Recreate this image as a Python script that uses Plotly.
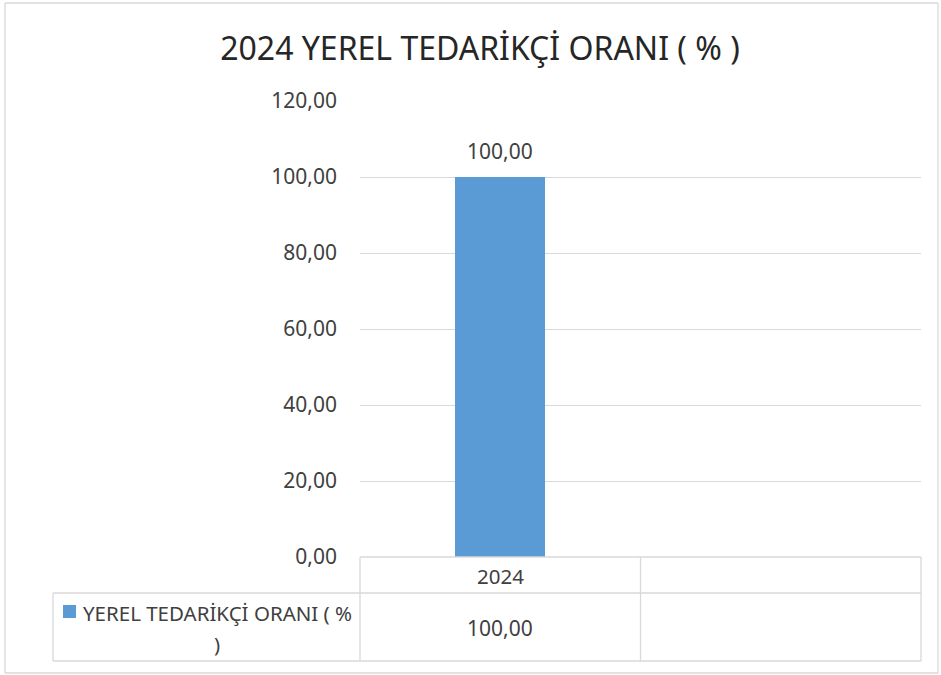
import plotly.graph_objects as go

# ---- data ----
categories = ["2024", " "]
values = [100.0, None]
series_name = "YEREL TEDARİKÇİ ORANI ( % )"
chart_title = "2024 YEREL TEDARİKÇİ ORANI ( % )"
y_ticks = [0, 20, 40, 60, 80, 100, 120]

def fmt(v):
    return f"{v:.2f}".replace(".", ",")

BAR = "#5B9BD5"
GRID = "#D9D9D9"
TXT = "#404040"
FONT = "Noto Sans"

W, H = 941, 675
L, R, T, B = 360, 20, 101, 118
pw, ph = W - L - R, H - T - B

def px(x):  # pixel x -> paper
    return (x - L) / pw

def py(y):  # pixel y -> paper
    return (H - B - y) / ph

fig = go.Figure()
fig.add_trace(go.Bar(
    x=categories, y=values, name=series_name,
    marker=dict(color=BAR, line=dict(width=0)),
    width=0.32, hoverinfo="skip",
))

shapes = []
def line(x0, y0, x1, y1, color=GRID, w=1.3):
    shapes.append(dict(type="line", xref="paper", yref="paper",
                       x0=px(x0), y0=py(y0), x1=px(x1), y1=py(y1),
                       line=dict(color=color, width=w), layer="above"))

# data table grid
line(360, 557, 921, 557)
line(53, 593, 921, 593)
line(53, 661, 921, 661)
line(53, 593, 53, 661)
for xx in (360, 640.5, 921):
    line(xx, 557, xx, 661)
# outer frame
line(5, 3, 938, 3)
line(5, 673, 938, 673)
line(5, 3, 5, 673)
line(938, 3, 938, 673)
# legend key
shapes.append(dict(type="rect", xref="paper", yref="paper",
                   x0=px(63), x1=px(76), y0=py(605), y1=py(618),
                   fillcolor=BAR, line=dict(width=0)))

annotations = []
for i, (c, v) in enumerate(zip(categories, values)):
    # data label above bar
    if v is not None:
        annotations.append(dict(x=i, xref="x", y=v, yref="y",
                                xanchor="center", yanchor="bottom", yshift=10,
                                text=fmt(v), showarrow=False,
                                font=dict(family=FONT, size=21, color=TXT)))
    annotations.append(dict(x=i, xref="x", y=py(576), yref="paper",
                            xanchor="center", yanchor="middle",
                            text=c.strip(), showarrow=False,
                            font=dict(family=FONT, size=20.5, color=TXT)))
    annotations.append(dict(x=i, xref="x", y=py(628), yref="paper",
                            xanchor="center", yanchor="middle",
                            text=fmt(v) if v is not None else "", showarrow=False,
                            font=dict(family=FONT, size=21, color=TXT)))
head, tail = series_name.rsplit(" ", 1)
annotations.append(dict(x=px(217), y=py(613), xref="paper", yref="paper",
                        xanchor="center", yanchor="middle",
                        text=head, showarrow=False,
                        font=dict(family=FONT, size=20.5, color=TXT)))
annotations.append(dict(x=px(217), y=py(644), xref="paper", yref="paper",
                        xanchor="center", yanchor="middle",
                        text=tail, showarrow=False,
                        font=dict(family=FONT, size=20.5, color=TXT)))

fig.update_layout(
    width=W, height=H,
    margin=dict(l=L, r=R, t=T, b=B),
    paper_bgcolor="white", plot_bgcolor="white",
    title=dict(text=chart_title, x=480 / W, xref="container", xanchor="center",
               y=1 - 49 / H, yanchor="middle",
               font=dict(family=FONT, size=32, color="#262626")),
    showlegend=False,
    bargap=0,
    xaxis=dict(type="category", categoryarray=categories, range=[-0.5, 1.5],
               showticklabels=False, showgrid=False, zeroline=False,
               showline=False, ticks=""),
    yaxis=dict(range=[0, 120], tickvals=y_ticks, ticktext=[fmt(v) for v in y_ticks],
               showgrid=True, gridcolor=GRID, gridwidth=1.3, zeroline=False,
               showline=False, ticks="", ticklabelstandoff=22,
               tickfont=dict(family=FONT, size=21, color=TXT)),
    shapes=shapes, annotations=annotations,
)

fig.write_html("out.html", config={"displayModeBar": False},
               post_script="document.body.style.margin='0';")
